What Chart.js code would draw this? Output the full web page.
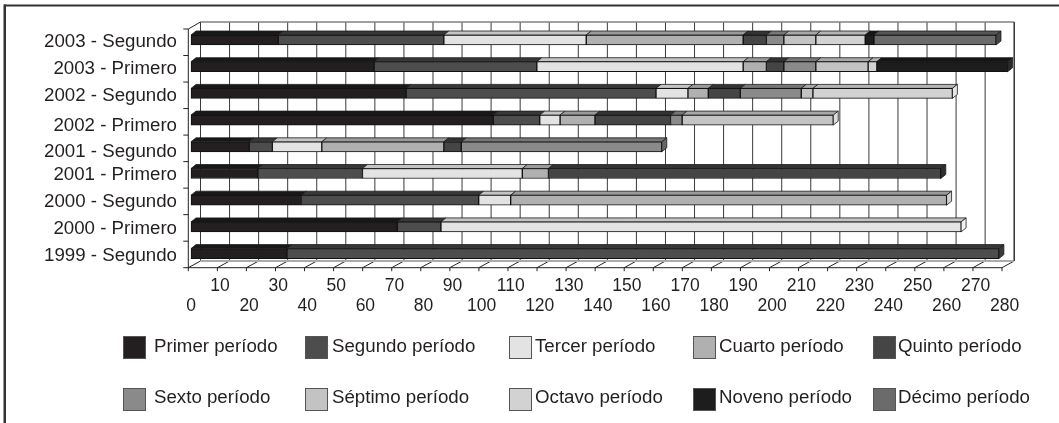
<!DOCTYPE html>
<html>
<head>
<meta charset="utf-8">
<title>Períodos por semestre</title>
<script src="https://cdn.jsdelivr.net/npm/chart.js@4"></script>
<style>
  html, body { margin: 0; padding: 0; background: #fff; }
  #wrap { position: relative; width: 1059px; height: 423px; overflow: hidden; }
  canvas { display: block; }
</style>
</head>
<body>
<div id="wrap"><canvas id="periodChart" width="1059" height="423"></canvas></div>
<script>
const semesters = ['2003 - Segundo', '2003 - Primero', '2002 - Segundo', '2002 - Primero', '2001 - Segundo',
  '2001 - Primero', '2000 - Segundo', '2000 - Primero', '1999 - Segundo'];

const primer  = [30, 63, 74, 104, 20, 23, 38, 71, 33];
const segundo = [57, 56, 86, 16, 8, 36, 61, 15, 245];
const tercer  = [49, 71, 11, 7, 17, 55, 11, 179, null];
const cuarto  = [54, 8, 7, 12, 42, 9, 150, null, null];
const quinto  = [8, 6, 11, 26, 6, 135, null, null, null];
const sexto   = [6, 11, 21, 4, 69, null, null, null, null];
const septimo = [11, 18, 4, 52, null, null, null, null, null];
const octavo  = [17, 3, 48, null, null, null, null, null, null];
const noveno  = [3, 45, null, null, null, null, null, null, null];
const decimo  = [42, null, null, null, null, null, null, null, null];

const seriesNames = ['Primer período', 'Segundo período', 'Tercer período', 'Cuarto período', 'Quinto período',
  'Sexto período', 'Séptimo período', 'Octavo período', 'Noveno período', 'Décimo período'];
const seriesValues = [primer, segundo, tercer, cuarto, quinto, sexto, septimo, octavo, noveno, decimo];

const upperRowTicks = [10, 30, 50, 70, 90, 110, 130, 150, 170, 190, 210, 230, 250, 270];

// face colours for the extruded bars
const frontFill = ['#231f20', '#4d4d4d', '#e3e3e3', '#b0b0b0', '#454545', '#8a8a8a', '#c3c3c3', '#d2d2d2', '#1d1d1d', '#6b6b6b'];
const topFill   = ['#1a1718', '#383838', '#c4c4c4', '#9a9a9a', '#333333', '#777777', '#a8a8a8', '#b4b4b4', '#151515', '#565656'];
const sideFill  = ['#151515', '#3a3a3a', '#f2f2f2', '#d0d0d0', '#2e2e2e', '#666666', '#dcdcdc', '#e6e6e6', '#2a2a2a', '#454545'];

const FONT = '"Liberation Sans", Arial, sans-serif';
const INK = '#231f20';

// text sits a little lower than the bar centre on some rows
const labelNudge = [2, 2.6, 2.3, 5.7, 5.2, 1.2, 1.5, 1.9, 1.9];

const legendColumns = [[123, 154], [305, 332], [509, 535], [693, 719], [873, 898]];
const legendRows = [[336, 347], [388, 398]];

// offsets of the front edge and the back wall from the plane the bars sit in
const frontDx = -2.7, backDx = 9.5;
const frontY = 267.7, backY = 261, wallTop = 22, frontTop = 29;
const barDx = 5, barDy = 4;

const frame3d = {
  id: 'frame3d',
  beforeDraw(chart) {
    const c = chart.ctx;
    c.save();
    c.fillStyle = '#333';
    c.fillRect(4, 4.5, 1055, 2);
    c.fillRect(3.5, 4.5, 2.5, 419);
    c.restore();
  },
  beforeDatasetsDraw(chart) {
    const c = chart.ctx, x = chart.scales.x;
    c.save();

    // back wall verticals and floor slants
    c.lineWidth = 1;
    x.ticks.forEach(t => {
      const px = x.getPixelForValue(t.value);
      c.strokeStyle = '#3a3a3a';
      c.beginPath();
      c.moveTo(px + backDx, wallTop);
      c.lineTo(px + backDx, backY);
      c.stroke();
      c.strokeStyle = '#222';
      c.beginPath();
      c.moveTo(px + backDx, backY);
      c.lineTo(px + frontDx, frontY);
      c.lineTo(px + frontDx, frontY + 3.5);
      c.stroke();
    });

    // top edge of the wall and back edge of the floor
    const left = x.getPixelForValue(0), right = x.getPixelForValue(280);
    c.strokeStyle = '#808080';
    c.lineWidth = 1.6;
    c.beginPath();
    c.moveTo(left + backDx, wallTop);
    c.lineTo(right + backDx, wallTop);
    c.stroke();
    c.strokeStyle = '#aaaaaa';
    c.lineWidth = 2;
    c.beginPath();
    c.moveTo(left + backDx, backY);
    c.lineTo(right + backDx, backY);
    c.stroke();

    // front axis lines
    c.strokeStyle = '#222';
    c.lineWidth = 1;
    c.beginPath();
    c.moveTo(left + frontDx, frontTop);
    c.lineTo(left + frontDx, frontY);
    c.lineTo(right + frontDx, frontY);
    c.moveTo(left + frontDx, frontTop);
    c.lineTo(left + backDx, wallTop);
    c.stroke();
    c.beginPath();
    c.moveTo(right + backDx, wallTop);
    c.lineTo(right + backDx, backY);
    c.stroke();

    // category ticks on the front axis
    const step = (frontY - frontTop) / semesters.length;
    for (let i = 0; i <= semesters.length; i++) {
      c.beginPath();
      c.moveTo(left + frontDx - 5, frontTop + i * step);
      c.lineTo(left + frontDx, frontTop + i * step);
      c.stroke();
    }

    // top and end faces of every stacked segment
    c.lineWidth = 0.8;
    c.strokeStyle = '#1c1c1c';
    chart.data.datasets.forEach((ds, d) => {
      const meta = chart.getDatasetMeta(d);
      meta.data.forEach((bar, i) => {
        if (ds.data[i] == null) return;
        const p = bar.getProps(['x', 'y', 'base', 'height'], true);
        const top = p.y - p.height / 2, bottom = p.y + p.height / 2;
        c.fillStyle = topFill[d];
        c.beginPath();
        c.moveTo(p.base, top);
        c.lineTo(p.base + barDx, top - barDy);
        c.lineTo(p.x + barDx, top - barDy);
        c.lineTo(p.x, top);
        c.closePath();
        c.fill();
        c.stroke();
        const isLast = !chart.data.datasets.slice(d + 1).some(o => o.data[i] != null);
        if (isLast) {
          c.fillStyle = sideFill[d];
          c.beginPath();
          c.moveTo(p.x, top);
          c.lineTo(p.x + barDx, top - barDy);
          c.lineTo(p.x + barDx, bottom - barDy);
          c.lineTo(p.x, bottom);
          c.closePath();
          c.fill();
          c.stroke();
        }
      });
    });
    c.restore();
  },
  afterDraw(chart) {
    const c = chart.ctx, y = chart.scales.y;
    c.save();
    c.fillStyle = INK;
    c.font = '18.7px ' + FONT;
    c.textBaseline = 'middle';

    // category names
    c.textAlign = 'right';
    semesters.forEach((name, i) => {
      c.fillText(name, 177, y.getPixelForValue(i) + labelNudge[i]);
    });

    // two row legend
    c.textAlign = 'left';
    chart.data.datasets.forEach((ds, d) => {
      const col = legendColumns[d % 5], row = legendRows[Math.floor(d / 5)];
      c.fillStyle = frontFill[d];
      c.fillRect(col[0], row[0], 23, 23);
      c.strokeStyle = '#555';
      c.lineWidth = 1;
      c.strokeRect(col[0] + 0.5, row[0] + 0.5, 22, 22);
      c.fillStyle = INK;
      c.fillText(ds.label, col[1], row[1]);
    });
    c.restore();
  }
};

new Chart(document.getElementById('periodChart'), {
  type: 'bar',
  data: {
    labels: semesters,
    datasets: seriesNames.map((name, i) => ({
      label: name,
      data: seriesValues[i],
      backgroundColor: frontFill[i],
      borderColor: '#111',
      borderWidth: 1,
      borderSkipped: false,
      barThickness: 10,
      clip: false
    }))
  },
  options: {
    indexAxis: 'y',
    responsive: false,
    animation: false,
    layout: { padding: { left: 191, right: 54.3, top: 26.65, bottom: 96.05 } },
    plugins: { legend: { display: false }, tooltip: { enabled: false } },
    scales: {
      x: {
        stacked: true,
        min: 0,
        max: 280,
        grid: { display: false, drawTicks: false },
        border: { display: false },
        afterFit(scale) { scale.height = 60; },
        ticks: {
          stepSize: 10,
          autoSkip: false,
          maxRotation: 0,
          minRotation: 0,
          padding: 9,
          color: INK,
          font: { family: FONT, size: 17.5, lineHeight: 1.14 },
          callback: v => upperRowTicks.includes(v) ? [String(v)] : ['', String(v)]
        }
      },
      y: {
        stacked: true,
        grid: { display: false, drawTicks: false },
        border: { display: false },
        ticks: { display: false },
        afterFit(scale) { scale.width = 0; }
      }
    }
  },
  plugins: [frame3d]
});
</script>
</body>
</html>
